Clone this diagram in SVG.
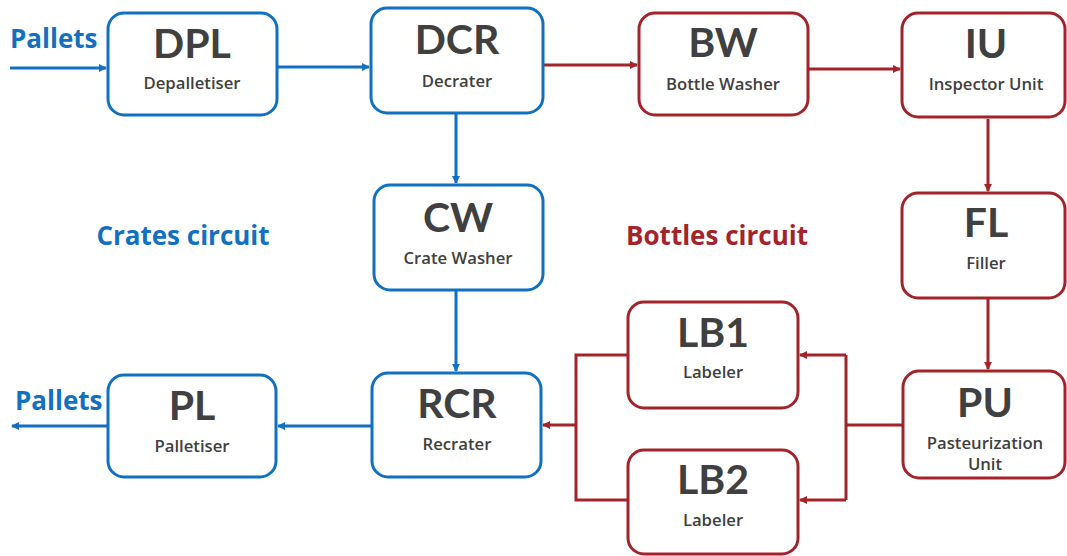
<svg xmlns="http://www.w3.org/2000/svg" width="1067" height="556" viewBox="0 0 1067 556">
<style>
.b{fill:#fff;stroke:#1170bf;stroke-width:3}
.r{fill:#fff;stroke:#a3232b;stroke-width:3}
.t{font-family:Lato,"Liberation Sans",sans-serif;font-weight:bold;font-size:41px;fill:#404040;text-anchor:middle}
.s{font-family:"Open Sans","Liberation Sans",sans-serif;font-weight:600;font-size:16.7px;fill:#404040;text-anchor:middle}
.lb{font-family:"Open Sans","Liberation Sans",sans-serif;font-weight:bold;font-size:26px;fill:#1170bf}
.lr{font-family:"Open Sans","Liberation Sans",sans-serif;font-weight:bold;font-size:26px;fill:#a3232b}
.cb{fill:none;stroke:#1170bf;stroke-width:3}
.cr{fill:none;stroke:#a3232b;stroke-width:3}
</style>
<defs>
<marker id="ab" markerWidth="10" markerHeight="10" refX="7" refY="4" orient="auto" markerUnits="userSpaceOnUse"><path d="M0,0 L8,4 L0,8 Z" fill="#1170bf"/></marker>
<marker id="ar" markerWidth="10" markerHeight="10" refX="7" refY="4" orient="auto" markerUnits="userSpaceOnUse"><path d="M0,0 L8,4 L0,8 Z" fill="#a3232b"/></marker>
</defs>
<g id="connectors">
<path class="cb" d="M10,68 H106" marker-end="url(#ab)"/>
<path class="cb" d="M277,67 H369" marker-end="url(#ab)"/>
<path class="cr" d="M544,65 H637" marker-end="url(#ar)"/>
<path class="cr" d="M809,69 H900" marker-end="url(#ar)"/>
<path class="cr" d="M988,119 V191" marker-end="url(#ar)"/>
<path class="cr" d="M988,299 V369" marker-end="url(#ar)"/>
<path class="cr" d="M903,425 H846"/>
<path class="cr" d="M846,355 V500"/>
<path class="cr" d="M846,355 H800" marker-end="url(#ar)"/>
<path class="cr" d="M846,500 H800" marker-end="url(#ar)"/>
<path class="cr" d="M628,355 H576 V500 H628"/>
<path class="cr" d="M576,425 H543" marker-end="url(#ar)"/>
<path class="cb" d="M456,114 V183" marker-end="url(#ab)"/>
<path class="cb" d="M456,291 V371" marker-end="url(#ab)"/>
<path class="cb" d="M372,426 H278" marker-end="url(#ab)"/>
<path class="cb" d="M108,426 H12" marker-end="url(#ab)"/>
</g>
<g id="labels">
<text class="lb" x="10" y="48" font-size="24.5">Pallets</text>
<text class="lb" x="15" y="410" font-size="24.5">Pallets</text>
<text class="lb" x="183" y="245" text-anchor="middle">Crates circuit</text>
<text class="lr" x="717" y="245" text-anchor="middle">Bottles circuit</text>
</g>
<g id="DPL"><rect class="b" x="108" y="13" width="169" height="102" rx="16"/><text class="t" x="192" y="58">DPL</text><text class="s" x="192" y="89">Depalletiser</text></g>
<g id="DCR"><rect class="b" x="371" y="8" width="172" height="105" rx="16"/><text class="t" x="457" y="54">DCR</text><text class="s" x="457" y="87">Decrater</text></g>
<g id="BW"><rect class="r" x="639" y="13" width="169" height="102" rx="16"/><text class="t" x="723" y="57">BW</text><text class="s" x="723" y="90">Bottle Washer</text></g>
<g id="IU"><rect class="r" x="902" y="13" width="163" height="104" rx="16"/><text class="t" x="986" y="58">IU</text><text class="s" x="986" y="90">Inspector Unit</text></g>
<g id="FL"><rect class="r" x="902" y="193" width="163" height="105" rx="16"/><text class="t" x="986" y="237">FL</text><text class="s" x="986" y="269">Filler</text></g>
<g id="CW"><rect class="b" x="374" y="185" width="169" height="105" rx="16"/><text class="t" x="458" y="232">CW</text><text class="s" x="458" y="264">Crate Washer</text></g>
<g id="LB1"><rect class="r" x="628" y="302" width="170" height="106" rx="16"/><text class="t" x="713" y="347">LB1</text><text class="s" x="713" y="378">Labeler</text></g>
<g id="LB2"><rect class="r" x="628" y="450" width="170" height="104" rx="16"/><text class="t" x="713" y="494">LB2</text><text class="s" x="713" y="526">Labeler</text></g>
<g id="PU"><rect class="r" x="903" y="371" width="162" height="107" rx="16"/><text class="t" x="985" y="417">PU</text><text class="s" x="985" y="449">Pasteurization</text><text class="s" x="985" y="470">Unit</text></g>
<g id="RCR"><rect class="b" x="372" y="373" width="169" height="104" rx="16"/><text class="t" x="457" y="418">RCR</text><text class="s" x="457" y="450">Recrater</text></g>
<g id="PL"><rect class="b" x="108" y="375" width="168" height="102" rx="16"/><text class="t" x="192" y="420">PL</text><text class="s" x="192" y="452">Palletiser</text></g>
</svg>
